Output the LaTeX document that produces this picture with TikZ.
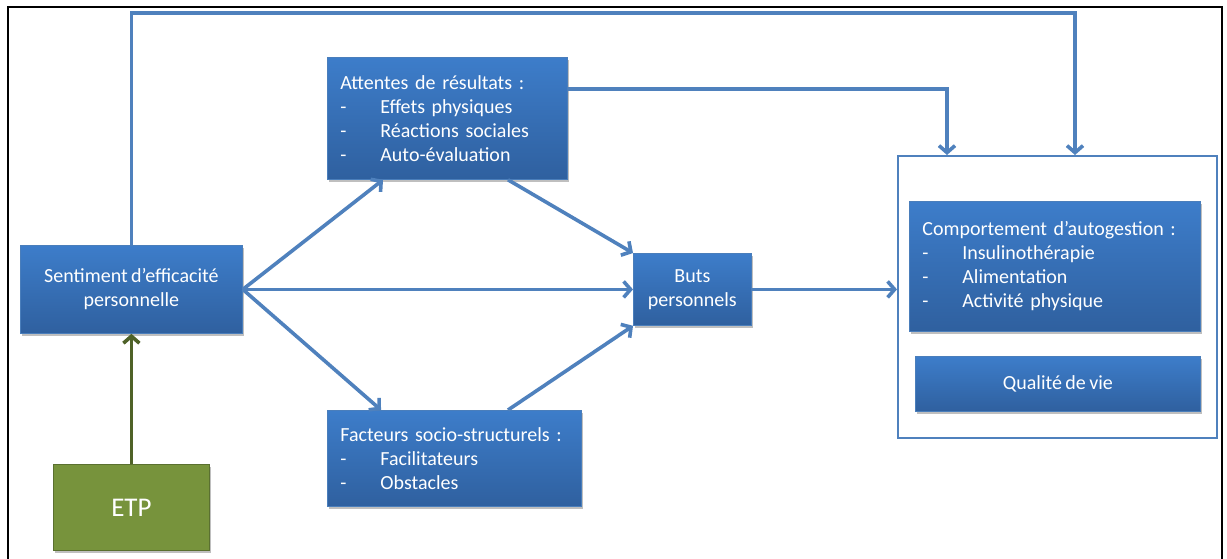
\documentclass[tikz,border=0pt]{standalone}
\usepackage{fontspec}
\setmainfont{Carlito}[WordSpace=0.75]
\usetikzlibrary{arrows.meta,shadows,calc}
\definecolor{bluearrow}{HTML}{4F81BD}
\definecolor{boxtop}{HTML}{3D7DCA}
\definecolor{boxbot}{HTML}{2F609F}
\definecolor{boxborder}{HTML}{4A7EBB}
\definecolor{etpfill}{HTML}{77933C}
\definecolor{etpborder}{HTML}{5A7030}
\definecolor{etparrow}{HTML}{4F6228}
\newcommand\litem[1]{\makebox[40pt][l]{-}#1}
\tikzset{
  box/.style={draw=boxborder, line width=0.8pt, top color=boxtop, bottom color=boxbot,
    text=white, font=\fontsize{20}{24}\selectfont, inner sep=0pt, anchor=north west,
    drop shadow={shadow xshift=2pt, shadow yshift=-3pt, opacity=0.25, fill=black}},
  listbox/.style={box, align=left, inner xsep=13pt},
  centerbox/.style={box, align=center},
  arr/.style={draw=bluearrow, line width=3.6pt, -{Straight Barb[length=7pt,width=16pt,line width=3.6pt]}},
  garr/.style={draw=etparrow, line width=3.6pt, -{Straight Barb[length=7pt,width=16pt,line width=3.6pt]}},
}
\begin{document}
\begin{tikzpicture}[x=1pt,y=-1pt]
\useasboundingbox (0,0) rectangle (1227,558);
\fill[white] (0,0) rectangle (1227,558);
% outer frame
\draw[black, line width=2.5pt] (8,560) -- (8,7) -- (1222,7) -- (1222,560);

\node[listbox, minimum width=240pt, minimum height=122pt, text width=214pt] (att) at (327,57)
  {Attentes de résultats :\\ \litem{Effets physiques}\\ \litem{Réactions sociales}\\ \litem{Auto-évaluation}};
\node[centerbox, minimum width=222pt, minimum height=88pt] (sent) at (20,245)
  {Sentiment d’efficacité\\personnelle};
\node[centerbox, minimum width=118pt, minimum height=72pt] (buts) at (633,253)
  {Buts\\personnels};
\node[listbox, minimum width=254pt, minimum height=96pt, text width=228pt] (fac) at (327,410)
  {Facteurs socio-structurels :\\ \litem{Facilitateurs}\\ \litem{Obstacles}};
\node[box, top color=etpfill, bottom color=etpfill, draw=etpborder, font=\fontsize{27}{30}\selectfont,
  minimum width=156pt, minimum height=86pt] (etp) at (53,464) {ETP};
\node[draw=bluearrow, line width=1.5pt, minimum width=319pt, minimum height=282pt, anchor=north west, inner sep=0pt] (cont) at (897,155) {};
\node[listbox, minimum width=291pt, minimum height=130pt, text width=265pt] (comp) at (909,201)
  {Comportement d’autogestion :\\ \litem{Insulinothérapie}\\ \litem{Alimentation}\\ \litem{Activité physique}};
\node[centerbox, minimum width=285pt, minimum height=55pt] (qual) at (915,356) {Qualité de vie};

\coordinate (top) at (0,13);
\draw[arr] (sent.east) -- ($(att.south west)+(56,0)$);
\draw[arr] (sent.east) -- (buts.west);
\draw[arr] (sent.east) -- ($(fac.north west)+(54,0)$);
\draw[arr] ($(att.south west)+(181,0)$) -- (buts.north west);
\draw[arr] ($(fac.north west)+(181,0)$) -- (buts.south west);
\draw[arr] (buts.east) -- (cont.west |- buts.east);
\draw[arr] ($(att.north east)+(0,32)$) -| ($(cont.north west)+(50,0)$);
\draw[arr] (sent.north) -- (sent.north |- top) -| ($(cont.north west)+(178,0)$);
\draw[garr] (etp.north) -- (sent.south);
\end{tikzpicture}
\end{document}
